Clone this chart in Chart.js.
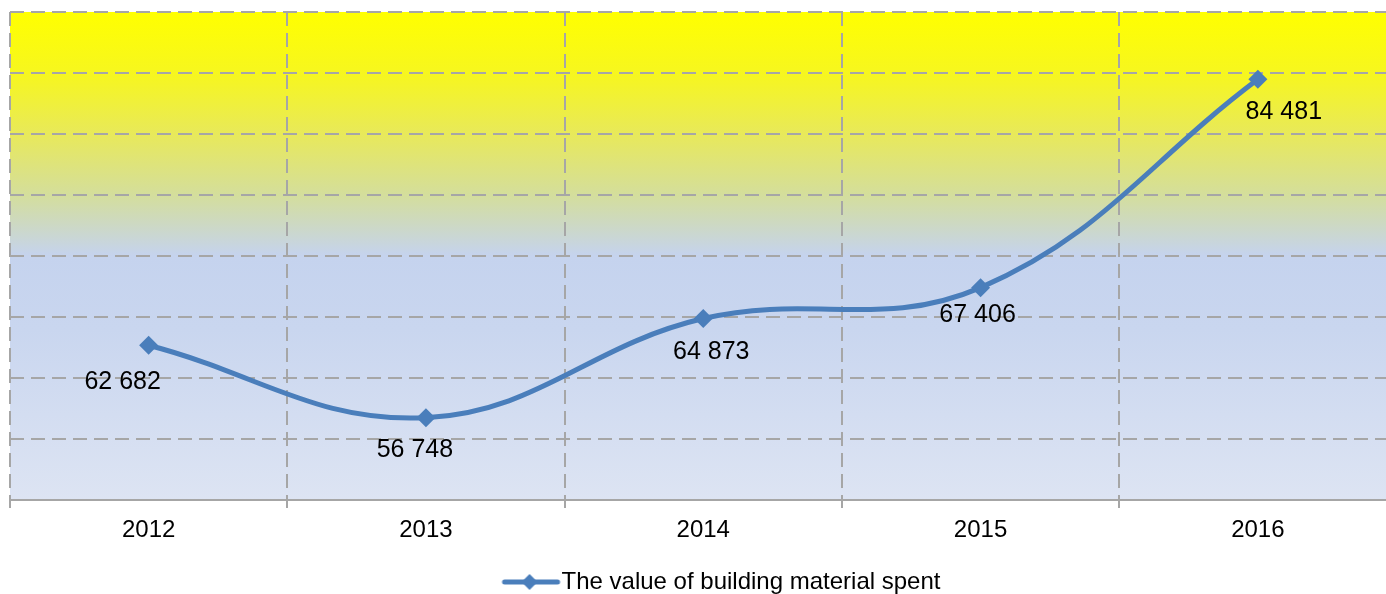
<!DOCTYPE html>
<html>
<head>
<meta charset="utf-8">
<script src="https://cdn.jsdelivr.net/npm/chart.js@4/dist/chart.umd.min.js"></script>
<style>
html,body{margin:0;padding:0;overflow:hidden;background:#fff;width:1386px;height:594px;}
#wrap{position:absolute;left:0;top:0;width:1406px;height:604px;}
</style>
</head>
<body>
<div id="wrap"><canvas id="c" width="1406" height="604"></canvas></div>
<script>
const years = ['2012', '2013', '2014', '2015', '2016'];
const buildingMaterialValues = [62682, 56748, 64873, 67406, 84481];
const seriesName = 'The value of building material spent';
const yMin = 50000, yMax = 90000, yStep = 5000;

const FONT = '"Liberation Sans", Arial, sans-serif';
const LINE = '#4A7EBB';

// legend marker image: line with a diamond
function legendMarker() {
  const c = document.createElement('canvas');
  c.width = 112; c.height = 20;
  const g = c.getContext('2d');
  g.strokeStyle = LINE; g.lineWidth = 5; g.lineCap = 'round';
  g.beginPath(); g.moveTo(50, 10); g.lineTo(103, 10); g.stroke();
  g.fillStyle = LINE;
  g.beginPath(); g.moveTo(75, 2); g.lineTo(83, 10); g.lineTo(75, 18); g.lineTo(67, 10); g.closePath(); g.fill();
  return c;
}
const marker = legendMarker();

const bgPlugin = {
  id: 'bg',
  beforeDraw(chart) {
    const {ctx, chartArea: a} = chart;
    const gr = ctx.createLinearGradient(0, a.top, 0, a.bottom);
    gr.addColorStop(0, '#FFFF00');
    gr.addColorStop(0.13, '#F6F620');
    gr.addColorStop(0.25, '#E8E95A');
    gr.addColorStop(0.375, '#D4DE9C');
    gr.addColorStop(0.5, '#C5D3EE');
    gr.addColorStop(0.65, '#C9D6EF');
    gr.addColorStop(1, '#DDE4F3');
    ctx.save();
    ctx.fillStyle = gr;
    ctx.fillRect(a.left, a.top, a.right - a.left, a.bottom - a.top);
    ctx.restore();
  }
};

const labelPlugin = {
  id: 'vlabels',
  afterDatasetsDraw(chart, args, opts) {
    const {ctx} = chart;
    const meta = chart.getDatasetMeta(0);
    ctx.save();
    ctx.font = '25px ' + FONT;
    ctx.fillStyle = '#000';
    ctx.textAlign = 'center';
    ctx.textBaseline = 'middle';
    meta.data.forEach((pt, i) => {
      const v = chart.data.datasets[0].data[i];
      const txt = v.toLocaleString('en-US').replace(/,/g, ' ');
      const n = opts.nudge[i];
      ctx.fillText(txt, pt.x + n[0], pt.y + n[1]);
    });
    ctx.restore();
  }
};

new Chart(document.getElementById('c'), {
  type: 'line',
  data: {
    labels: years,
    datasets: [{
      label: seriesName,
      data: buildingMaterialValues,
      borderColor: LINE,
      backgroundColor: LINE,
      borderWidth: 5,
      tension: 0.4,
      pointStyle: 'rectRot',
      pointRadius: 9.5,
      pointBackgroundColor: LINE,
      pointBorderColor: LINE,
      pointBorderWidth: 0,
      fill: false
    }]
  },
  options: {
    responsive: false,
    animation: false,
    devicePixelRatio: 1,
    layout: {padding: {left: 10, right: 4, top: 12, bottom: 0}},
    plugins: {
      legend: {
        position: 'bottom',
        labels: {
          usePointStyle: true,
          pointStyleWidth: 78,
          padding: 0,
          color: '#000',
          font: {family: FONT, size: 24},
          generateLabels(chart) {
            return [{text: seriesName, pointStyle: marker, fontColor: '#000', datasetIndex: 0, lineWidth: 0, strokeStyle: 'transparent', fillStyle: 'transparent'}];
          }
        }
      },
      tooltip: {enabled: false},
      vlabels: {nudge: [[-26, 37], [-11, 32], [8, 34], [-3, 27], [26, 33]]}
    },
    scales: {
      x: {
        offset: true,
        grid: {offset: true, color: '#A6A6A6', lineWidth: 2, drawTicks: true, tickLength: 8, tickColor: '#A6A6A6', tickWidth: 2},
        border: {display: true, dash: [14, 7], color: '#A6A6A6', width: 2},
        ticks: {color: '#000', font: {family: FONT, size: 24}, padding: 8},
        afterFit(s) { s.height = 70; }
      },
      y: {
        min: yMin, max: yMax,
        ticks: {display: false, stepSize: yStep},
        grid: {color: '#A6A6A6', lineWidth: 2, drawTicks: false},
        border: {display: false, dash: [14, 7]}
      }
    }
  },
  plugins: [bgPlugin, labelPlugin]
});
</script>
</body>
</html>
